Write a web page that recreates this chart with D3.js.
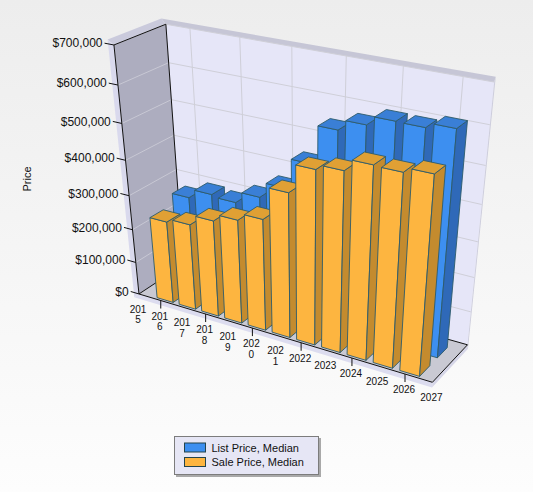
<!DOCTYPE html>
<html><head><meta charset="utf-8">
<script src="https://cdn.jsdelivr.net/npm/d3@7"></script>
<style>body{margin:0;background:#fff} svg{display:block;font-family:"Liberation Sans",Arial,sans-serif}</style>
</head><body><svg id="c" width="533" height="492"></svg>
<script>
const years = [2016,2017,2018,2019,2020,2021,2022,2023,2024,2025,2026];
const salePrice = [246000,256000,285000,305000,325000,414000,490000,503000,533000,531000,543000];
const listPrice = [277000,303000,297000,329000,372000,453000,554000,581000,604000,603000,615000];
const xTickYears = d3.range(2015,2028);
const yTicks = d3.range(0,700001,100000);

function solve(A,b){const n=b.length;const M=A.map((r,i)=>[...r,b[i]]);
 for(let c=0;c<n;c++){let p=c;for(let r=c+1;r<n;r++)if(Math.abs(M[r][c])>Math.abs(M[p][c]))p=r;[M[c],M[p]]=[M[p],M[c]];
  for(let r=0;r<n;r++){if(r===c)continue;const f=M[r][c]/M[c][c];for(let k=c;k<=n;k++)M[r][k]-=f*M[c][k];}}
 return M.map((r,i)=>r[n]/r[i]);}
// perspective camera fitted to the plot box (world box x,y,z in [0,1])
const S=250,CU=266,CV=246;
const corr=[
 [0,7/7,0,114.3,46],[0,6/7,0,118.3,85],[0,5/7,0,121.7,123.3],[0,4/7,0,125,160],[0,3/7,0,128.3,195],[0,2/7,0,131.7,229.3],[0,1/7,0,135,262.7],[0,0,0,139.3,294],
 [0,1,1,166,24.3],[1,1,1,495,82],[1,0,1,467,345],[1,0,0,433,382.5],
 [1/12,0,0,162,300.8],[3/12,0,0,206,314.1],[5/12,0,0,253,328.3],[7/12,0,0,302,343],[9/12,0,0,351,357.8],[11/12,0,0,404.3,373.8],
 [1/12,1,1,190,28.5],[3/12,1,1,240,37.3],[5/12,1,1,292,46.4],[7/12,1,1,346,55.9],[9/12,1,1,403,65.9],[11/12,1,1,463,76.4]];
function dlt(){const rows=[],rhs=[];
 for(const [X,Y,Z,u0,v0] of corr){const u=(u0-CU)/S,v=(v0-CV)/S;
  rows.push([X,Y,Z,1,0,0,0,0,-u*X,-u*Y,-u*Z]);rhs.push(u);
  rows.push([0,0,0,0,X,Y,Z,1,-v*X,-v*Y,-v*Z]);rhs.push(v);}
 const n=11,A=Array.from({length:n},()=>Array(n).fill(0)),b=Array(n).fill(0);
 rows.forEach((r,i)=>{for(let j=0;j<n;j++){b[j]+=r[j]*rhs[i];for(let k=0;k<n;k++)A[j][k]+=r[j]*r[k];}});
 return solve(A,b);}
const P=dlt();
function proj(X,Y,Z){const w=P[8]*X+P[9]*Y+P[10]*Z+1;
 return [(P[0]*X+P[1]*Y+P[2]*Z+P[3])/w*S+CU,(P[4]*X+P[5]*Y+P[6]*Z+P[7])/w*S+CV];}
const Cam=solve([[P[0],P[1],P[2]],[P[4],P[5],P[6]],[P[8],P[9],P[10]]],[-P[3],-P[7],-1]);

const xW=d3.scaleLinear().domain([2015,2027]).range([0,1]);
const yW=d3.scaleLinear().domain([0,700000]).range([0,1]);
const series=[{name:"List Price, Median",values:listPrice,front:"#3d8ff0",top:"#3a7fd6",side:"#2f69b8"},
              {name:"Sale Price, Median",values:salePrice,front:"#fdb540",top:"#e0a034",side:"#c48b2e"}];
const zBand=d3.scaleBand().domain(["Sale Price, Median","List Price, Median"]).range([0.04,0.81]).paddingInner(0.43).paddingOuter(0);

const svg=d3.select("#c");
const defs=svg.append("defs");
const g=defs.append("linearGradient").attr("id","bg").attr("x1",0).attr("y1",0).attr("x2",0).attr("y2",1);
g.append("stop").attr("offset","0%").attr("stop-color","#ededed");
g.append("stop").attr("offset","100%").attr("stop-color","#fdfdfd");
svg.append("rect").attr("width",533).attr("height",492).attr("fill","url(#bg)");
const line=d3.line();
function poly(pts,fill,stroke,sw){return svg.append("path").attr("d",line(pts.map(p=>proj(...p)))+"Z").attr("fill",fill).attr("stroke",stroke||"none").attr("stroke-width",sw||1).attr("stroke-linejoin","round");}
function seg(a,b,stroke,sw){const p=proj(...a),q=proj(...b);svg.append("line").attr("x1",p[0]).attr("y1",p[1]).attr("x2",q[0]).attr("y2",q[1]).attr("stroke",stroke).attr("stroke-width",sw||1);}
const t=0.02,e=0.015,tz=0.03,f=0.022;
// walls and floor
poly([[0,0,1],[1,0,1],[1,1,1],[0,1,1]],"#e6e6f8");
poly([[0,0,0],[0,0,1],[0,1,1],[0,1,0]],"#adadbf");
poly([[0,0,0],[1,0,0],[1,0,1],[0,0,1]],"#c9c9d3");
poly([[0,1,1],[-t,1+e,1+tz],[1,1+e,1+tz],[1,1,1]],"#c6c6d6");
poly([[1,1,1],[1,1+e,1+tz],[1,-f,1+tz],[1,0,1]],"#cdcddd");
poly([[1,0,0],[1,-f,0],[1,-f,1+tz],[1,0,1]],"#d6d6e8");
poly([[-t,-f,0],[1,-f,0],[1,0,0],[0,0,0]],"#dcdcef");
poly([[0,1,0],[-t,1+e,0],[-t,1+e,1+tz],[0,1,1]],"#cacadc");
poly([[-t,-f,0],[-t,1+e,0],[0,1,0],[0,0,0]],"#d9d9ed");
// gridlines
const gridTickYears=xTickYears.filter(y=>y%2===0);
yTicks.slice(1).forEach(v=>{seg([0,yW(v),1],[1,yW(v),1],"#cfcfd8");seg([0,yW(v),0],[0,yW(v),1],"#c8c8d4");});
gridTickYears.forEach(y=>seg([xW(y),0,1],[xW(y),1,1],"#cfcfd8"));
// frame edges
[[[0,0,0],[0,1,0]],[[0,1,0],[0,1,1]],[[0,0,1],[0,1,1]],[[0,0,0],[0,0,1]],[[0,0,0],[1,0,0]],[[1,0,0],[1,0,1]],[[0,0,1],[1,0,1]]].forEach(([a,b])=>seg(a,b,"#111"));
// y ticks & labels
const fmt=d3.format("$,.0f");
yTicks.forEach(v=>{const a=proj(0,yW(v),0),b=proj(-0.032,yW(v),0);
 svg.append("line").attr("x1",a[0]).attr("y1",a[1]).attr("x2",b[0]).attr("y2",b[1]).attr("stroke","#111");
 svg.append("text").attr("x",b[0]-2).attr("y",b[1]).attr("dy","0.35em").attr("text-anchor","end").attr("font-size",12).attr("fill","#111").text(fmt(v));});
svg.append("text").attr("transform","translate(31,179) rotate(-90)").attr("text-anchor","middle").attr("font-size",11).attr("fill","#111").text("Price");
// x ticks & labels
gridTickYears.forEach(y=>{const p=proj(xW(y),0,0);svg.append("line").attr("x1",p[0]).attr("y1",p[1]).attr("x2",p[0]).attr("y2",p[1]+8).attr("stroke","#111");});
xTickYears.forEach(y=>{const p=proj(xW(y),0,0);const s=String(y);const lines=y<=2021?[s.slice(0,3),s.slice(3)]:[s];
 const tx=svg.append("text").attr("text-anchor","middle").attr("font-size",10).attr("fill","#111");
 lines.forEach((l,i)=>tx.append("tspan").attr("x",p[0]-1).attr("y",p[1]+19+i*10.5).text(l));});
// bars
const bars=[];
series.forEach(s=>{const z0=zBand(s.name),z1=z0+zBand.bandwidth();
 years.forEach((y,i)=>{const x0=xW(y-0.25),x1=xW(y+0.48),y1=yW(s.values[i]);
  const c=[(x0+x1)/2,y1/2,(z0+z1)/2];const d=Math.hypot(c[0]-Cam[0],c[1]-Cam[1],c[2]-Cam[2]);
  bars.push({s,x0,x1,y1,z0,z1,d});});});
bars.sort((a,b)=>b.d-a.d);
bars.forEach(b=>{const {x0,x1,y1,z0,z1,s}=b;const st="#2e5b6b";
 if(Cam[2]<z0)poly([[x0,0,z0],[x1,0,z0],[x1,y1,z0],[x0,y1,z0]],s.front,st,0.9);
 if(Cam[0]>x1)poly([[x1,0,z0],[x1,0,z1],[x1,y1,z1],[x1,y1,z0]],s.side,st,0.9);
 if(Cam[0]<x0)poly([[x0,0,z0],[x0,0,z1],[x0,y1,z1],[x0,y1,z0]],s.side,st,0.9);
 if(Cam[1]>y1)poly([[x0,y1,z0],[x1,y1,z0],[x1,y1,z1],[x0,y1,z1]],s.top,st,0.9);});
// legend
svg.append("rect").attr("x",176).attr("y",438).attr("width",145).attr("height",39).attr("fill","#a9a9a9");
svg.append("rect").attr("x",174.5).attr("y",436.5).attr("width",144).attr("height",38).attr("fill","#e6e6f5").attr("stroke","#7c7c7c");
series.forEach((s,i)=>{svg.append("rect").attr("x",184.5).attr("y",443+i*14.5).attr("width",21).attr("height",9).attr("fill",s.front).attr("stroke","#24444c");
 svg.append("text").attr("x",211.5).attr("y",448+i*14.5).attr("dy","0.35em").attr("font-size",11).attr("fill","#111").text(s.name);});
</script></body></html>
